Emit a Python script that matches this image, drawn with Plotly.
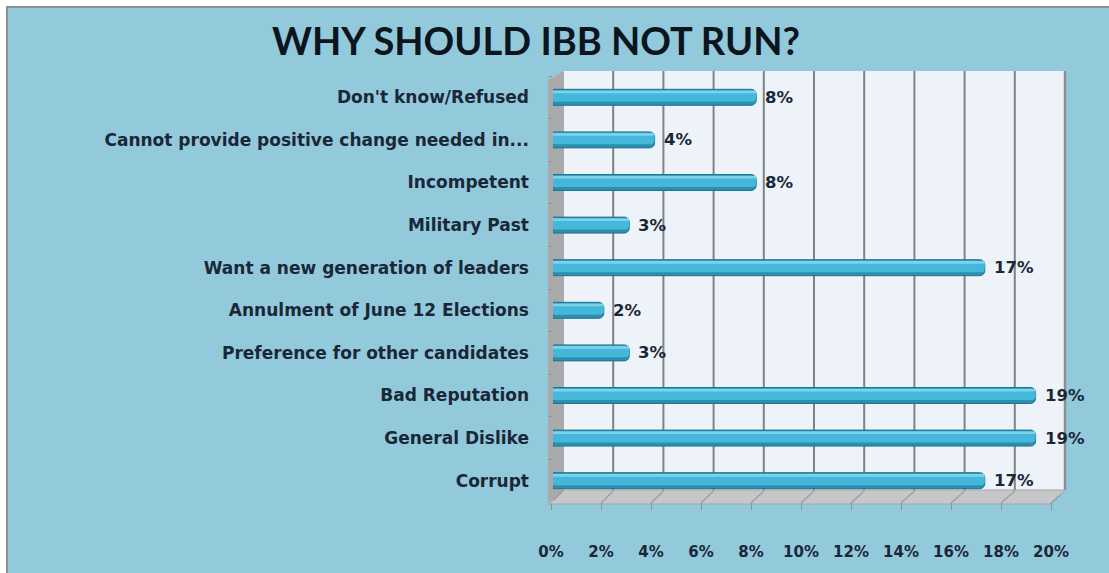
import plotly.graph_objects as go

# Reasons given, top to bottom, and share of respondents (%)
categories = [
    "Don't know/Refused",
    "Cannot provide positive change needed in...",
    "Incompetent",
    "Military Past",
    "Want a new generation of leaders",
    "Annulment of June 12 Elections",
    "Preference for other candidates",
    "Bad Reputation",
    "General Dislike",
    "Corrupt",
]
values = [8, 4, 8, 3, 17, 2, 3, 19, 19, 17]
tick_vals = [0, 2, 4, 6, 8, 10, 12, 14, 16, 18, 20]
tick_text = [f"{v}%" for v in tick_vals]

W, H = 1109, 573
# plot frame (pixels)
L, R, T, B = 551, 1061, 76, 502
# bar scale spans bx0..R, front floor scale spans L..fx1
bx0, fx1 = 553, 1051


def xp(px):
    return (px - L) / (R - L)


def yp(py):
    return (B - py) / (B - T)


text_color = "#1a2738"
label_font = "'DejaVu Sans', sans-serif"
title_font = "Lato, 'Open Sans', sans-serif"

bar_w = 0.375

fig = go.Figure()
# cylinder body: darker shell, mid tone, thin highlight near the top edge
fig.add_trace(go.Bar(
    x=values, y=categories, orientation="h",
    width=bar_w, offset=-bar_w / 2,
    marker=dict(color="#2b8fb0", cornerradius=5, line=dict(color="#23728d", width=1)),
    hoverinfo="skip",
))
fig.add_trace(go.Bar(
    x=values, y=categories, orientation="h",
    width=0.27, offset=-0.165,
    marker=dict(color="#45b8da", cornerradius=4, line=dict(width=0)),
    hoverinfo="skip",
))
fig.add_trace(go.Bar(
    x=values, y=categories, orientation="h",
    width=0.06, offset=-0.155,
    marker=dict(color="#7dd3ec", cornerradius=1, line=dict(width=0)),
    hoverinfo="skip",
))
# carries the front floor scale (x2) so its ticks and labels are drawn
fig.add_trace(go.Scatter(
    x=values, y=categories, xaxis="x2", mode="markers",
    marker=dict(opacity=0), hoverinfo="skip",
))

# value labels just past the end of each bar
annotations = [
    dict(x=v, y=c, xref="x", yref="y", text=f"{v}%", showarrow=False,
         xanchor="left", yanchor="middle", xshift=7,
         font=dict(family=label_font, size=16.5, color=text_color, weight="bold"))
    for c, v in zip(categories, values)
]

shapes = [
    # blue panel with grey frame on the top and left
    dict(type="rect", xref="paper", yref="paper",
         x0=xp(7), x1=xp(W + 10), y0=yp(H + 10), y1=yp(7),
         fillcolor="#93cadb", line=dict(color="#8d9194", width=2), layer="below"),
    # back wall
    dict(type="rect", xref="paper", yref="paper",
         x0=xp(563), x1=xp(1065), y0=yp(490), y1=yp(71),
         fillcolor="#edf3f8", line=dict(width=0), layer="below"),
    dict(type="line", xref="paper", yref="paper",
         x0=xp(1065), x1=xp(1065), y0=yp(490), y1=yp(71),
         line=dict(color="#8a9095", width=2.5), layer="below"),
    # left side wall
    dict(type="path", xref="paper", yref="paper",
         path=f"M {xp(548)},{yp(80)} L {xp(564)},{yp(71)} L {xp(564)},{yp(490)} L {xp(548)},{yp(504)} Z",
         fillcolor="#a8aaac", line=dict(width=0), layer="below"),
    # floor
    dict(type="path", xref="paper", yref="paper",
         path=f"M {xp(548)},{yp(504)} L {xp(564)},{yp(490)} L {xp(1065)},{yp(490)} L {xp(1050)},{yp(504)} Z",
         fillcolor="#c5c7c9", line=dict(color="#a3a6a9", width=1), layer="below"),
]

# back-wall gridlines and slanted floor ticks, placed from the tick values
for v in tick_vals[1:-1]:
    shapes.append(dict(
        type="line", xref="x", yref="paper", xsizemode="pixel", xanchor=v,
        x0=10 - 0.3 * v, x1=10 - 0.3 * v, y0=yp(490), y1=yp(71),
        line=dict(color="#7e8388", width=2), layer="below"))
for v in tick_vals:
    shapes.append(dict(
        type="line", xref="x", yref="paper", xsizemode="pixel", xanchor=v,
        x0=-2 - 0.4 * v, x1=10 - 0.3 * v, y0=yp(503), y1=yp(491),
        line=dict(color="#9a9da1", width=1.2), layer="below"))

fig.update_layout(
    width=W, height=H,
    barmode="overlay",
    showlegend=False,
    paper_bgcolor="#ffffff",
    plot_bgcolor="rgba(0,0,0,0)",
    margin=dict(l=L, r=W - R, t=T, b=H - B),
    title=dict(
        text="WHY SHOULD IBB NOT RUN?",
        x=536 / W, xanchor="center",
        y=1 - 42 / H, yanchor="middle",
        font=dict(family=title_font, size=38, color="#0c141e", weight="bold"),
    ),
    xaxis=dict(
        range=[0, 20], domain=[xp(bx0), 1], showgrid=False, zeroline=False,
        showticklabels=False, ticks="", fixedrange=True,
    ),
    xaxis2=dict(
        range=[0, 20], domain=[0, xp(fx1)], anchor="y", side="bottom",
        tickvals=tick_vals, ticktext=tick_text,
        showgrid=False, zeroline=False,
        ticks="outside", ticklen=7, tickwidth=1.2, tickcolor="#8f9396",
        ticklabelstandoff=29,
        tickfont=dict(family=label_font, size=15, color=text_color, weight="bold"),
        fixedrange=True,
    ),
    yaxis=dict(
        range=[len(categories) - 0.5, -0.5], showgrid=False,
        ticks="outside", tickson="boundaries", ticklen=4, tickwidth=1,
        tickcolor="#8f9396",
        ticklabelstandoff=23,
        tickfont=dict(family=label_font, size=17, color=text_color, weight="bold"),
        fixedrange=True,
    ),
    shapes=shapes,
    annotations=annotations,
)

fig.write_html("out.html")
